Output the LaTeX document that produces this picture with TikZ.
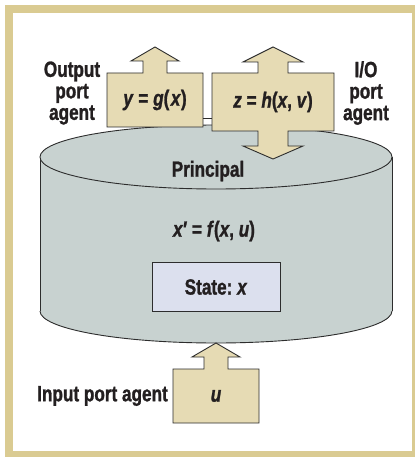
\documentclass[tikz,border=0pt]{standalone}
\usepackage{fontspec}
\newfontfamily\figfont{Liberation Sans}[FakeStretch=0.78,
  UprightFont=* Bold, ItalicFont=* Bold Italic,
  UprightFeatures={FakeBold=1.2}, ItalicFeatures={FakeBold=1.2}]
\usetikzlibrary{positioning}
\definecolor{frametan}{RGB}{218,203,146}
\definecolor{boxtan}{RGB}{230,219,180}
\definecolor{cylgray}{RGB}{200,210,208}
\definecolor{statelav}{RGB}{220,224,238}
\definecolor{linegray}{RGB}{45,45,45}
\definecolor{textgray}{RGB}{35,31,32}

\begin{document}
\begin{tikzpicture}[x=1pt,y=-1pt,
  outline/.style={draw=linegray,line width=0.9pt},
  lbl/.style={font=\figfont\fontsize{22}{21.5}\selectfont,text=textgray,
    inner sep=0pt,align=center}]

\useasboundingbox (0,0) rectangle (415,457);

% frame
\fill[frametan] (5,5) rectangle (415,457);
\fill[white] (13,13) rectangle (412,451);

% principal cylinder
\fill[cylgray] (40,157) rectangle (392,311);
\fill[cylgray] (216,311) ellipse [x radius=176pt,y radius=32pt];
\begin{scope}
  \clip (30,311) rectangle (400,350);
  \draw[outline] (216,311) ellipse [x radius=176pt,y radius=32pt];
\end{scope}
\draw[outline] (40,157) -- (40,311);
\draw[outline] (392,157) -- (392,311);
\draw[outline,fill=cylgray] (216,157) ellipse [x radius=176pt,y radius=32pt];

% port agents
\draw[outline,fill=boxtan] (107,127) -- (107,73) -- (143,73) -- (143,61) -- (131,61) -- (155,47)
  -- (179,61) -- (167,61) -- (167,73) -- (203,73) -- (203,127) -- cycle;
\draw[outline,fill=boxtan] (212,131) -- (212,73) -- (258,73) -- (258,62) -- (243,62) -- (273,47)
  -- (303,62) -- (288,62) -- (288,73) -- (334,73) -- (334,131) -- (288,131) -- (288,146)
  -- (303,146) -- (273,159) -- (243,146) -- (258,146) -- (258,131) -- cycle;
\draw[outline,fill=boxtan] (173,423) -- (173,369) -- (204,369) -- (204,357) -- (192,357) -- (216,343)
  -- (240,357) -- (228,357) -- (228,369) -- (259,369) -- (259,423) -- cycle;

\node[lbl,minimum width=96,minimum height=54] (gbox) at (155,100)
  {\textit{y} = \textit{g}(\kern1.5pt\textit{x})};
\node[lbl,minimum width=122,minimum height=58] (hbox) at (273,102)
  {\textit{z} = \textit{h}(\textit{x}, \textit{v})};
\node[lbl,minimum width=86,minimum height=54] (ubox) at (216,396) {\textit{u}};

\coordinate (link) at (208,118);
\draw[outline] (gbox.east |- link) -- (hbox.west |- link);

\node[lbl] (outlabel) at (72,93) {Output\\port\\agent};
\node[lbl] (iolabel) at (366,93) {I/O\\port\\agent};
\node[lbl,anchor=east] (inlabel) at (168,396) {Input port agent};

\node[lbl] (principal) at (208,171) {Principal};
\node[lbl] (update) at (214,231) {\textit{x}′ = \textit{f}(\textit{x},\ \textit{u})};
\node[lbl,outline,fill=statelav,minimum width=128,minimum height=49] (state) at (216,287)
  {State:\ \textit{x}};
\end{tikzpicture}
\end{document}
